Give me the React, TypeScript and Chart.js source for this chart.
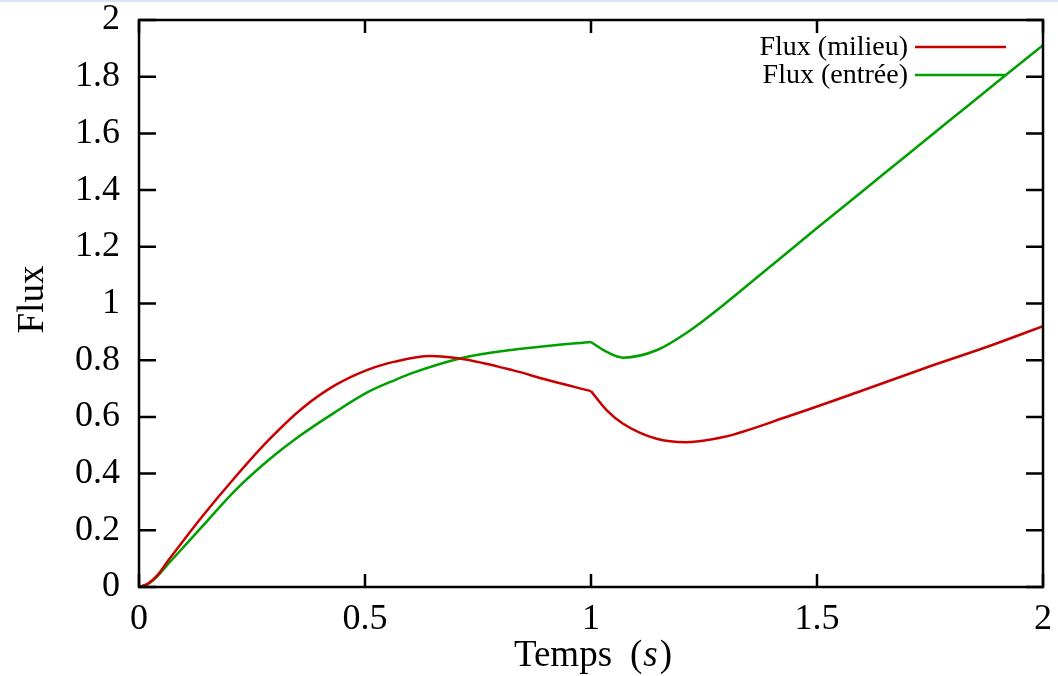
import React, { useEffect, useRef } from "react";
import { Chart, registerables } from "chart.js";

Chart.register(...registerables);

// ---- Data ----
const kinkTime = 1;

const timeMilieu = [0, 0.02, 0.04, 0.065, 0.139, 0.213, 0.286, 0.36, 0.434, 0.507, 0.566, 0.644, 0.71, 0.828, 0.902, 1.0, 1.035, 1.071, 1.145, 1.211, 1.293, 1.44, 1.588, 1.735, 1.883, 2.0];
const fluxMilieu = [0, 0.012, 0.04, 0.094, 0.247, 0.388, 0.517, 0.629, 0.712, 0.767, 0.795, 0.815, 0.806, 0.764, 0.731, 0.691, 0.623, 0.576, 0.523, 0.511, 0.529, 0.604, 0.686, 0.77, 0.851, 0.92];

const timeEntree = [0, 0.02, 0.04, 0.065, 0.139, 0.213, 0.286, 0.352, 0.434, 0.507, 0.566, 0.607, 0.71, 0.828, 0.902, 1.0, 1.035, 1.071, 1.145, 1.219, 1.293, 1.4, 1.5, 1.6, 1.7, 1.8, 1.9, 2.0];
const fluxEntree = [0, 0.011, 0.037, 0.082, 0.212, 0.341, 0.447, 0.529, 0.617, 0.688, 0.73, 0.756, 0.806, 0.837, 0.85, 0.864, 0.829, 0.809, 0.835, 0.905, 0.995, 1.135, 1.266, 1.395, 1.525, 1.654, 1.783, 1.911];

const seriesLabels = ["Flux (milieu)", "Flux (entrée)"];
const seriesColors = ["rgb(200,0,0)", "rgb(0,160,0)"];

const xMin = 0, xMax = 2, xStep = 0.5;
const yMin = 0, yMax = 2, yStep = 0.2;
const xTitle = "Temps";
const xTitleUnit = "s";
const yTitle = "Flux";

const SERIF = '"Liberation Serif", "Times New Roman", serif';

function splitAtKink(times: number[], fluxes: number[]) {
  const pts = times.map((t, i) => ({ x: t, y: fluxes[i] }));
  return [pts.filter((p) => p.x <= kinkTime), pts.filter((p) => p.x >= kinkTime)];
}

const fmt = (v: any) => String(Math.round(Number(v) * 100) / 100);

const framePlugin = {
  id: "gnuFrame",
  afterDatasetsDraw(chart: any) {
    const { ctx, chartArea: a, scales } = chart;
    const xs = scales.x;
    const ys = scales.y;
    ctx.save();
    ctx.strokeStyle = "#000";
    ctx.lineWidth = 2.5;
    ctx.beginPath();
    for (const t of xs.ticks) {
      const px = xs.getPixelForValue(t.value);
      ctx.moveTo(px, a.bottom);
      ctx.lineTo(px, a.bottom - 13);
      ctx.moveTo(px, a.top);
      ctx.lineTo(px, a.top + 13);
    }
    for (const t of ys.ticks) {
      const py = ys.getPixelForValue(t.value);
      ctx.moveTo(a.left, py);
      ctx.lineTo(a.left + 17, py);
      ctx.moveTo(a.right, py);
      ctx.lineTo(a.right - 17, py);
    }
    ctx.stroke();
    ctx.strokeRect(a.left, a.top, a.right - a.left, a.bottom - a.top);

    // legend (gnuplot style: text then line sample)
    ctx.font = "28px " + SERIF;
    ctx.textAlign = "right";
    ctx.textBaseline = "middle";
    const lineEnd = a.right - 37;
    const lineStart = lineEnd - 91;
    seriesLabels.forEach((lab, i) => {
      const yy = a.top + 27 + i * 28;
      ctx.fillStyle = "#000";
      ctx.fillText(lab, lineStart - 7, yy + 1);
      ctx.strokeStyle = seriesColors[i];
      ctx.lineWidth = 2.5;
      ctx.beginPath();
      ctx.moveTo(lineStart, yy);
      ctx.lineTo(lineEnd, yy);
      ctx.stroke();
    });

    // x title: "Temps (s)" with italic s
    ctx.fillStyle = "#000";
    ctx.textAlign = "left";
    ctx.textBaseline = "alphabetic";
    const normal = "37px " + SERIF;
    const italic = "italic 37px " + SERIF;
    const gap = 18;
    ctx.font = normal;
    const wT = ctx.measureText(xTitle).width;
    const wP = ctx.measureText("(").width;
    const wC = ctx.measureText(")").width;
    ctx.font = italic;
    const wS = ctx.measureText(xTitleUnit).width + 3;
    const total = wT + gap + wP + wS + wC;
    let cx = (a.left + a.right) / 2 + 2 - total / 2;
    const base = 666;
    ctx.font = normal;
    ctx.fillText(xTitle, cx, base);
    cx += wT + gap;
    ctx.fillText("(", cx, base);
    cx += wP + 1;
    ctx.font = italic;
    ctx.fillText(xTitleUnit, cx, base);
    cx += wS - 1;
    ctx.font = normal;
    ctx.fillText(")", cx, base);

    // y title
    ctx.save();
    ctx.translate(33, (a.top + a.bottom) / 2 - 4);
    ctx.rotate(-Math.PI / 2);
    ctx.textAlign = "center";
    ctx.textBaseline = "middle";
    ctx.font = "37px " + SERIF;
    ctx.fillText(yTitle, 0, 0);
    ctx.restore();

    ctx.restore();
  },
};

export default function App() {
  const ref = useRef<HTMLCanvasElement | null>(null);
  useEffect(() => {
    if (!ref.current) return;
    const [m1, m2] = splitAtKink(timeMilieu, fluxMilieu);
    const [e1, e2] = splitAtKink(timeEntree, fluxEntree);
    const mk = (data: any[], i: number) => ({
      label: seriesLabels[i],
      data,
      borderColor: seriesColors[i],
      backgroundColor: seriesColors[i],
      borderWidth: 2.5,
      pointRadius: 0,
      cubicInterpolationMode: "monotone" as const,
      fill: false,
    });
    const chart = new Chart(ref.current, {
      type: "line",
      data: { datasets: [mk(m1, 0), mk(m2, 0), mk(e1, 1), mk(e2, 1)] },
      options: {
        animation: false,
        responsive: false,
        devicePixelRatio: 1,
        layout: { padding: { left: 0, right: 15, top: 20, bottom: 0 } },
        plugins: { legend: { display: false }, tooltip: { enabled: false } },
        scales: {
          x: {
            type: "linear",
            min: xMin,
            max: xMax,
            ticks: { stepSize: xStep, color: "#000", padding: 11, font: { family: SERIF, size: 36 }, maxRotation: 0, callback: fmt },
            grid: { display: false, drawTicks: false },
            border: { display: false },
            afterFit: (s: any) => {
              s.height = 89;
              s.paddingLeft = 0;
              s.paddingRight = 0;
            },
          },
          y: {
            type: "linear",
            min: yMin,
            max: yMax,
            ticks: { stepSize: yStep, color: "#000", padding: 19, font: { family: SERIF, size: 36 }, callback: fmt },
            grid: { display: false, drawTicks: false },
            border: { display: false },
            afterFit: (s: any) => {
              s.width = 139;
              s.paddingTop = 0;
              s.paddingBottom = 0;
            },
          },
        },
      },
      plugins: [framePlugin],
    });
    return () => chart.destroy();
  }, []);
  return (
    <div style={{ position: "fixed", left: 0, top: 0, width: 1058, height: 676, background: "#fff" }}>
      <canvas ref={ref} width={1058} height={676} style={{ display: "block" }} />
      <div style={{ position: "absolute", left: 0, top: 0, width: 1058, height: 2, background: "#d6e6f6" }} />
    </div>
  );
}
